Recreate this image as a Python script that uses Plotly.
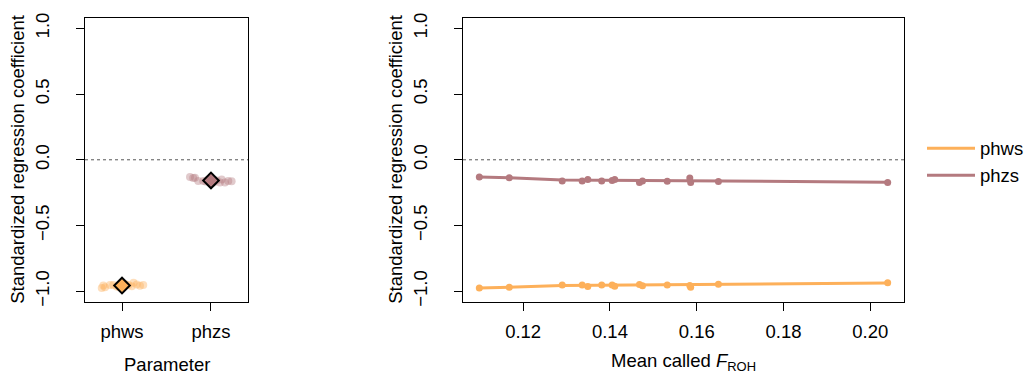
import plotly.graph_objects as go

# ---- data ----
params = ["phws", "phzs"]
mean_froh = [0.1099, 0.1168, 0.1290, 0.1336, 0.1349, 0.1381, 0.1405, 0.1411,
             0.1468, 0.1475, 0.1532, 0.1584, 0.1586, 0.1650, 0.2040]
phws_coef = [-0.976, -0.970, -0.953, -0.953, -0.963, -0.953, -0.953, -0.961,
             -0.948, -0.958, -0.953, -0.956, -0.970, -0.946, -0.936]
phzs_coef = [-0.131, -0.136, -0.161, -0.161, -0.150, -0.161, -0.158, -0.150,
             -0.173, -0.161, -0.163, -0.139, -0.173, -0.165, -0.173]
# fitted trend lines
fit_x = [0.1099, 0.1168, 0.1290, 0.2040]
phws_fit = [-0.976, -0.970, -0.956, -0.937]
phzs_fit = [-0.131, -0.136, -0.154, -0.170]
# horizontal jitter of the points in the left panel
phws_jitter = [-0.228, -0.191, -0.135, -0.098, -0.060, 0.000, 0.074, 0.110,
               0.166, 0.202, 0.239, -0.210, -0.030, 0.040, 0.130]
phzs_jitter = [-0.236, -0.180, -0.143, -0.087, -0.030, 0.000, 0.064, 0.120,
               0.157, 0.194, 0.232, -0.200, 0.030, -0.060, 0.100]
y_ticks = [-1.0, -0.5, 0.0, 0.5, 1.0]
y_ticktext = ["\u22121.0", "\u22120.5", "0.0", "0.5", "1.0"]
x_ticks = [0.12, 0.14, 0.16, 0.18, 0.20]
x_ticktext = ["0.12", "0.14", "0.16", "0.18", "0.20"]

colors = {"phws": "#FDB05A", "phzs": "#B47A7F"}
FONT = "Liberation Sans, Arial, Helvetica, sans-serif"
FS = 18.5

fig = go.Figure()

# ---- left panel ----
for i, (p, coefs, jit) in enumerate([("phws", phws_coef, phws_jitter),
                                     ("phzs", phzs_coef, phzs_jitter)]):
    xpos = [i + 1 + j for j in jit]
    fig.add_trace(go.Scatter(x=xpos, y=coefs, mode="markers", xaxis="x", yaxis="y",
                             marker=dict(size=8, color=colors[p], opacity=0.4,
                                         line=dict(width=0)),
                             showlegend=False, hoverinfo="skip"))
for i, (p, coefs) in enumerate([("phws", phws_coef), ("phzs", phzs_coef)]):
    m = sum(coefs) / len(coefs)
    fig.add_trace(go.Scatter(x=[i + 1], y=[m], mode="markers", xaxis="x", yaxis="y",
                             marker=dict(symbol="diamond", size=12, color=colors[p],
                                         line=dict(width=2, color="black")),
                             showlegend=False))

# ---- right panel ----
for p, coefs, fit in [("phws", phws_coef, phws_fit), ("phzs", phzs_coef, phzs_fit)]:
    fig.add_trace(go.Scatter(x=fit_x, y=fit, mode="lines", xaxis="x2", yaxis="y2",
                             line=dict(color=colors[p], width=3), name=p,
                             showlegend=True))
    fig.add_trace(go.Scatter(x=mean_froh, y=coefs, mode="markers", xaxis="x2", yaxis="y2",
                             marker=dict(size=7, color=colors[p]),
                             showlegend=False))

W, H = 1030, 377
def px(x):
    return x / W
def py(y):
    return (H - y) / H

yax = dict(range=[-1.081, 1.081], tickvals=y_ticks, ticktext=y_ticktext, tickangle=-90,
           ticks="outside", ticklen=8, tickcolor="black", showline=True, linecolor="black",
           linewidth=1, mirror=True, showgrid=False, zeroline=False,
           ticklabelstandoff=20, tickfont=dict(size=FS, color="black"))
fig.update_layout(
    width=W, height=H, margin=dict(l=0, r=0, t=0, b=0),
    paper_bgcolor="white", plot_bgcolor="white",
    font=dict(family=FONT, size=FS, color="black"),
    xaxis=dict(domain=[px(85), px(248)], range=[0.584, 2.416], tickvals=[1, 2],
               ticktext=params, ticks="outside", ticklen=8, tickcolor="black",
               showline=True, linecolor="black", linewidth=1, mirror=True,
               showgrid=False, zeroline=False, ticklabelstandoff=5,
               tickfont=dict(size=FS, color="black")),
    yaxis=dict(domain=[py(305), py(13)], anchor="x", **yax),
    xaxis2=dict(domain=[px(463), px(904)], range=[0.10614, 0.20776], tickvals=x_ticks,
                ticktext=x_ticktext, ticks="outside", ticklen=8, tickcolor="black",
                showline=True, linecolor="black", linewidth=1, mirror=True,
                showgrid=False, zeroline=False, ticklabelstandoff=5, anchor="y2",
                tickfont=dict(size=FS, color="black")),
    yaxis2=dict(domain=[py(305), py(13)], anchor="x2", **yax),
    legend=dict(x=px(922), y=py(128), xanchor="left", yanchor="top",
                font=dict(size=FS, color="black"), bgcolor="rgba(0,0,0,0)",
                tracegroupgap=0, itemwidth=48),
    showlegend=True,
)

for xr in ["x domain", "x2 domain"]:
    yr = "y" if xr == "x domain" else "y2"
    fig.add_shape(type="line", xref=xr, yref=yr, x0=0, x1=1, y0=0, y1=0,
                  line=dict(color="#555555", width=1, dash="3px,3px"), layer="below")

ann = [
    dict(x=px(18), y=py(159), text="Standardized regression coefficient", textangle=-90),
    dict(x=px(396), y=py(159), text="Standardized regression coefficient", textangle=-90),
    dict(x=px(166.5), y=py(369), text="Parameter"),
    dict(x=px(683.5), y=py(367), text="Mean called <i>F</i><sub>ROH</sub>"),
]
for a in ann:
    fig.add_annotation(xref="paper", yref="paper", showarrow=False,
                       xanchor="center", yanchor="middle",
                       font=dict(size=FS, color="black", family=FONT), **a)

fig.write_html("out.html")
